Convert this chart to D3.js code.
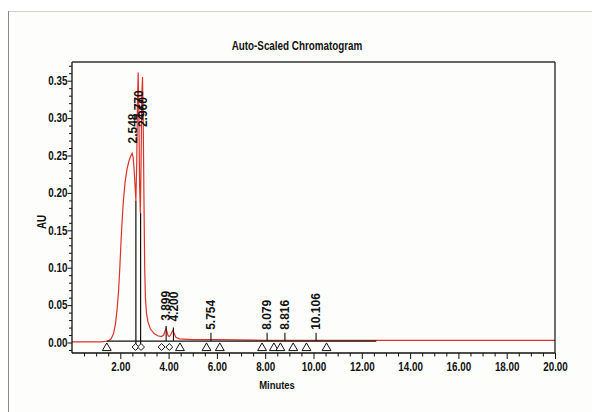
<!DOCTYPE html>
<html><head><meta charset="utf-8">
<script src="https://cdn.jsdelivr.net/npm/d3@7"></script>
<style>body{margin:0;background:#fff}svg{display:block}</style>
</head><body><svg id="c" width="592" height="412"></svg>
<script>
// ---- data ----
const traceTime = [0, 1.2, 1.5, 1.62, 1.72, 1.80, 1.87, 1.93, 1.98, 2.03, 2.08, 2.13, 2.20, 2.28, 2.36, 2.43, 2.49, 2.53, 2.57, 2.61, 2.645, 2.68, 2.71, 2.74, 2.77, 2.80, 2.83, 2.86, 2.89, 2.92, 2.95, 2.98, 3.01, 3.04, 3.08, 3.15, 3.25, 3.40, 3.55, 3.70, 3.80, 3.86, 3.89, 3.93, 3.98, 4.03, 4.10, 4.17, 4.22, 4.30, 4.45, 5.0, 6.0, 8.0, 12.6, 20];
const traceAU   = [0.001, 0.001, 0.002, 0.005, 0.012, 0.025, 0.045, 0.07, 0.10, 0.135, 0.165, 0.19, 0.215, 0.232, 0.243, 0.249, 0.253, 0.248, 0.232, 0.21, 0.19, 0.24, 0.32, 0.361, 0.30, 0.21, 0.173, 0.24, 0.33, 0.355, 0.29, 0.19, 0.10, 0.06, 0.04, 0.027, 0.018, 0.012, 0.009, 0.008, 0.010, 0.016, 0.019, 0.015, 0.009, 0.008, 0.011, 0.016, 0.013, 0.007, 0.005, 0.004, 0.004, 0.003, 0.003, 0.003];

const peakTimes  = [2.50, 2.75, 2.93, 3.899, 4.200, 5.754, 8.079, 8.816, 10.106];
const peakLabels = ["2.548", "2.770", "2.960", "3.899", "4.200", "5.754", "8.079", "8.816", "10.106"];
const labelBase  = [0.266, 0.297, 0.288, 0.029, 0.028, 0.017, 0.017, 0.017, 0.017];
const tickTop    = [null, null, null, 0.022, 0.020, 0.013, 0.013, 0.013, 0.013];

const dropTimes = [2.645, 2.84];
const dropAU    = [0.19, 0.173];

const triangleTimes = [1.44, 4.47, 5.57, 6.12, 7.87, 8.36, 8.63, 9.16, 9.71, 10.54];
const diamondTimes  = [2.63, 2.86, 3.71, 4.03];

const baselineStart = 1.44, baselineEnd = 12.6, baselineAU = 0.002;

const xTickValues = [2, 4, 6, 8, 10, 12, 14, 16, 18, 20];
const xTickLabels = ["2.00", "4.00", "6.00", "8.00", "10.00", "12.00", "14.00", "16.00", "18.00", "20.00"];
const yTickValues = [0, 0.05, 0.10, 0.15, 0.20, 0.25, 0.30, 0.35];
const yTickLabels = ["0.00", "0.05", "0.10", "0.15", "0.20", "0.25", "0.30", "0.35"];

const title = "Auto-Scaled Chromatogram";
const xTitle = "Minutes";
const yTitle = "AU";

// ---- drawing ----
const svg = d3.select("#c");
const W = 592, H = 412;
const L = 72, R = 555, T = 62, B = 353;
const x = d3.scaleLinear().domain([0, 20]).range([L, R]);
const y = d3.scaleLinear().domain([-0.014, 0.375]).range([B, T]);
const FONT = "'Liberation Sans', Arial, sans-serif";
const bg = "#fdfdfb";

function narrow(sel, f) {
  sel.each(function () {
    const w = this.getComputedTextLength();
    this.setAttribute("textLength", (w * f).toFixed(2));
    this.setAttribute("lengthAdjust", "spacingAndGlyphs");
  });
}

// outer panel
svg.append("rect").attr("x", 8).attr("y", 11).attr("width", W).attr("height", H).attr("fill", bg);
svg.append("line").attr("x1", 8).attr("x2", W).attr("y1", 11.5).attr("y2", 11.5).attr("stroke", "#d0d0d0");
svg.append("line").attr("x1", 8.5).attr("x2", 8.5).attr("y1", 11).attr("y2", H).attr("stroke", "#8a8a8a");

// trace
const pts = traceTime.map((t, i) => [t, traceAU[i]]);
svg.append("path").datum(pts)
  .attr("fill", "none").attr("stroke", "#dc3228").attr("stroke-width", 1.2)
  .attr("d", d3.line().x(d => x(d[0])).y(d => y(d[1])));

// integration baseline
svg.append("line")
  .attr("x1", x(baselineStart)).attr("x2", x(baselineEnd))
  .attr("y1", y(baselineAU)).attr("y2", y(baselineAU))
  .attr("stroke", "#111").attr("stroke-width", 1.2);

// drop lines
svg.selectAll(".drop").data(dropTimes).join("line")
  .attr("x1", d => x(d)).attr("x2", d => x(d))
  .attr("y1", (d, i) => y(dropAU[i])).attr("y2", y(baselineAU) + 3)
  .attr("stroke", "#111").attr("stroke-width", 1.2);

// label tick lines
peakTimes.forEach((t, i) => {
  if (tickTop[i] == null) return;
  svg.append("line")
    .attr("x1", x(t)).attr("x2", x(t))
    .attr("y1", y(tickTop[i])).attr("y2", y(baselineAU))
    .attr("stroke", "#111").attr("stroke-width", 1.1);
});

// markers
const y0 = y(baselineAU);
svg.selectAll(".tri").data(triangleTimes).join("path")
  .attr("transform", d => `translate(${x(d)},${y0 + 7})`)
  .attr("d", d3.symbol(d3.symbolTriangle, 34)())
  .attr("fill", bg).attr("stroke", "#111").attr("stroke-width", 1);
svg.selectAll(".dia").data(diamondTimes).join("path")
  .attr("transform", d => `translate(${x(d)},${y0 + 6})`)
  .attr("d", d3.symbol(d3.symbolDiamond2, 30)())
  .attr("fill", bg).attr("stroke", "#111").attr("stroke-width", 1);

// peak labels
peakTimes.forEach((t, i) => {
  const px = x(t), py = y(labelBase[i]);
  svg.append("text")
    .attr("x", px).attr("y", py).attr("dy", "0.35em")
    .attr("transform", `rotate(-90,${px},${py})`)
    .attr("font-family", FONT).attr("font-weight", "bold").attr("font-size", 12)
    .attr("fill", "#111").text(peakLabels[i]);
});

// axes
const xMinor = d3.range(0.5, 20, 0.5).filter(v => v % 2 !== 0);
const yMinor = d3.range(-0.01, 0.375, 0.01).filter(v => Math.abs(Math.round(v * 100) % 5) !== 0);

const gx = svg.append("g").attr("transform", `translate(0,${B})`);
gx.call(d3.axisBottom(x).tickValues(xMinor).tickSize(3.5).tickFormat(""));
gx.call(g => g.append("g").call(d3.axisBottom(x).tickValues(xTickValues).tickSize(6)
  .tickFormat((d, i) => xTickLabels[i])));
gx.selectAll(".domain").remove();
gx.selectAll("line").attr("stroke", "#111");
gx.selectAll("text").attr("font-family", FONT).attr("font-weight", "bold")
  .attr("font-size", 12).attr("fill", "#111").attr("dy", "0.71em").attr("y", 9);

const gy = svg.append("g").attr("transform", `translate(${L},0)`);
gy.call(d3.axisLeft(y).tickValues(yMinor).tickSize(3).tickFormat(""));
gy.call(g => g.append("g").call(d3.axisLeft(y).tickValues(yTickValues).tickSize(4.5)
  .tickFormat((d, i) => yTickLabels[i])));
gy.selectAll(".domain").remove();
gy.selectAll("line").attr("stroke", "#111");
gy.selectAll("text").attr("font-family", FONT).attr("font-weight", "bold")
  .attr("font-size", 12).attr("fill", "#111").attr("x", -4.5);

// frame
svg.append("line").attr("x1", L).attr("x2", R).attr("y1", B).attr("y2", B).attr("stroke", "#111").attr("stroke-width", 1.3);
svg.append("line").attr("x1", L).attr("x2", L).attr("y1", T).attr("y2", B).attr("stroke", "#111").attr("stroke-width", 1.3);
svg.append("line").attr("x1", L).attr("x2", R).attr("y1", T).attr("y2", T).attr("stroke", "#333").attr("stroke-width", 1.6);
svg.append("line").attr("x1", R).attr("x2", R).attr("y1", T).attr("y2", B).attr("stroke", "#222").attr("stroke-width", 1.3);

// titles
svg.append("text").attr("x", 297).attr("y", 50).attr("text-anchor", "middle")
  .attr("font-family", FONT).attr("font-weight", "bold").attr("font-size", 12).attr("fill", "#111").text(title);
svg.append("text").attr("x", 277).attr("y", 389).attr("text-anchor", "middle")
  .attr("font-family", FONT).attr("font-weight", "bold").attr("font-size", 11.5).attr("fill", "#111").text(xTitle);
svg.append("text").attr("transform", "translate(46,222) rotate(-90)").attr("text-anchor", "middle")
  .attr("font-family", FONT).attr("font-weight", "bold").attr("font-size", 12).attr("fill", "#111").text(yTitle);

narrow(svg.selectAll("g text"), 0.82);
narrow(svg.selectAll("svg > text").filter(function () { return !this.getAttribute("transform") || this.textContent === yTitle; }), 0.82);
</script></body></html>
